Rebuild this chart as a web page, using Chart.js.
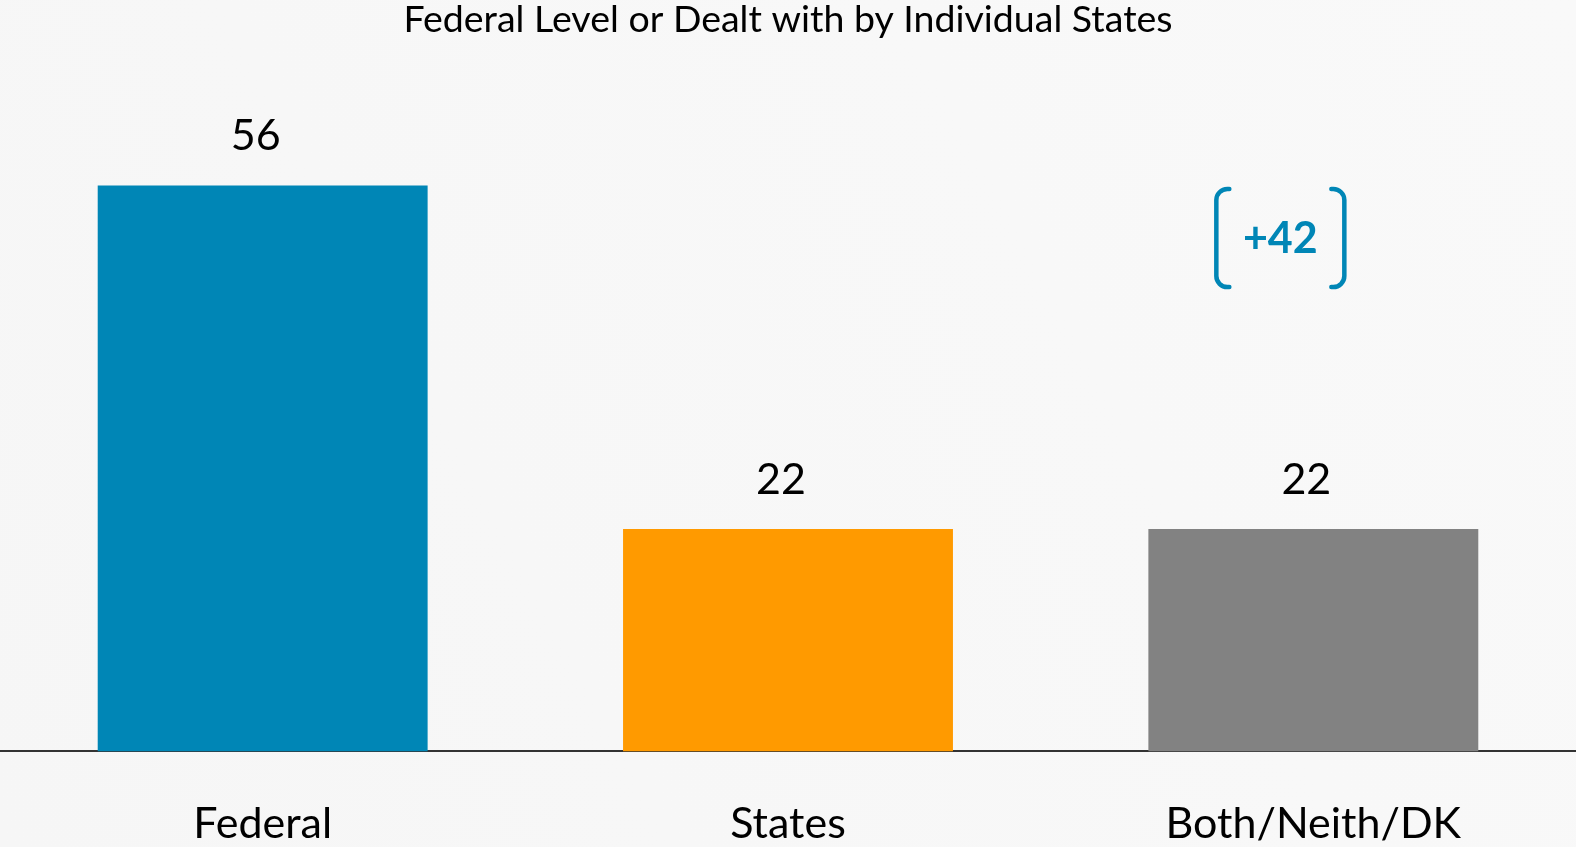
<!DOCTYPE html>
<html>
<head>
<meta charset="utf-8">
<script src="https://cdn.jsdelivr.net/npm/chart.js@4.4.0/dist/chart.umd.min.js"></script>
<style>
  html, body { margin: 0; padding: 0; overflow: hidden; }
  body { width: 1576px; height: 847px; background: #f8f8f8; }
  #wrap { position: relative; width: 1576px; height: 847px; }
</style>
</head>
<body>
<div id="wrap"><canvas id="c" width="1576" height="847"></canvas></div>
<script>
const titleText = "Federal Level or Dealt with by Individual States";
const categories = ["Federal", "States", "Both/Neith/DK"];
const values = [56, 22, 22];
const barColors = ["#0086B6", "#FF9A00", "#828282"];
const annotationText = "+42";
const annotationCategory = 2;
const annotationValue = 50.8;

const FONT = "Lato, 'Open Sans', sans-serif";

const bgPlugin = {
  id: 'bg',
  beforeDraw(chart) {
    const ctx = chart.ctx;
    const g = ctx.createLinearGradient(0, chart.height, chart.width, 0);
    g.addColorStop(0, '#f6f6f6');
    g.addColorStop(1, '#f9f9f9');
    ctx.save();
    ctx.fillStyle = g;
    ctx.fillRect(0, 0, chart.width, chart.height);
    ctx.restore();
  }
};

const valueLabelPlugin = {
  id: 'valueLabels',
  afterDatasetsDraw(chart) {
    const ctx = chart.ctx;
    const meta = chart.getDatasetMeta(0);
    ctx.save();
    ctx.font = "43px " + FONT;
    ctx.fillStyle = '#000';
    ctx.textAlign = 'center';
    ctx.textBaseline = 'middle';
    meta.data.forEach((bar, i) => {
      ctx.fillText(String(values[i]), bar.x - 7, bar.y - 49);
    });
    ctx.restore();
  }
};

const annotationPlugin = {
  id: 'bracketNote',
  afterDatasetsDraw(chart) {
    const ctx = chart.ctx;
    const cx = chart.scales.x.getPixelForValue(annotationCategory) - 33;
    const cy = chart.scales.y.getPixelForValue(annotationValue);
    const color = '#0086B6';
    ctx.save();
    ctx.strokeStyle = color;
    ctx.lineWidth = 4.5;
    ctx.lineCap = 'round';
    const hh = 49, hw = 64, hook = 13, r = 11;
    // left bracket
    ctx.beginPath();
    ctx.moveTo(cx - hw + hook, cy - hh);
    ctx.arcTo(cx - hw, cy - hh, cx - hw, cy - hh + r, r);
    ctx.lineTo(cx - hw, cy + hh - r);
    ctx.arcTo(cx - hw, cy + hh, cx - hw + hook, cy + hh, r);
    ctx.lineTo(cx - hw + hook, cy + hh);
    ctx.stroke();
    // right bracket
    ctx.beginPath();
    ctx.moveTo(cx + hw - hook, cy - hh);
    ctx.arcTo(cx + hw, cy - hh, cx + hw, cy - hh + r, r);
    ctx.lineTo(cx + hw, cy + hh - r);
    ctx.arcTo(cx + hw, cy + hh, cx + hw - hook, cy + hh, r);
    ctx.lineTo(cx + hw - hook, cy + hh);
    ctx.stroke();
    ctx.fillStyle = color;
    ctx.font = "bold 43px " + FONT;
    ctx.textAlign = 'center';
    ctx.textBaseline = 'middle';
    ctx.fillText(annotationText, cx, cy + 1);
    ctx.restore();
  }
};

new Chart(document.getElementById('c'), {
  type: 'bar',
  data: {
    labels: categories,
    datasets: [{
      data: values,
      backgroundColor: barColors,
      borderWidth: 0,
      categoryPercentage: 1.0,
      barPercentage: 0.628
    }]
  },
  options: {
    responsive: false,
    animation: false,
    layout: { padding: { top: 0, left: 0, right: 0, bottom: -50 } },
    plugins: {
      legend: { display: false },
      tooltip: { enabled: false },
      title: {
        display: true,
        text: titleText,
        color: '#000',
        font: { family: FONT, size: 37.5, weight: 'normal', lineHeight: 1.1 },
        padding: { top: -1, bottom: 3.75 }
      }
    },
    scales: {
      x: {
        grid: { display: false, drawTicks: false },
        border: { display: true, color: '#333333', width: 2 },
        ticks: {
          color: '#000',
          font: { family: FONT, size: 43, lineHeight: 1.2 },
          padding: 47
        }
      },
      y: {
        display: false,
        min: 0,
        max: 70
      }
    }
  },
  plugins: [bgPlugin, valueLabelPlugin, annotationPlugin]
});
</script>
</body>
</html>
